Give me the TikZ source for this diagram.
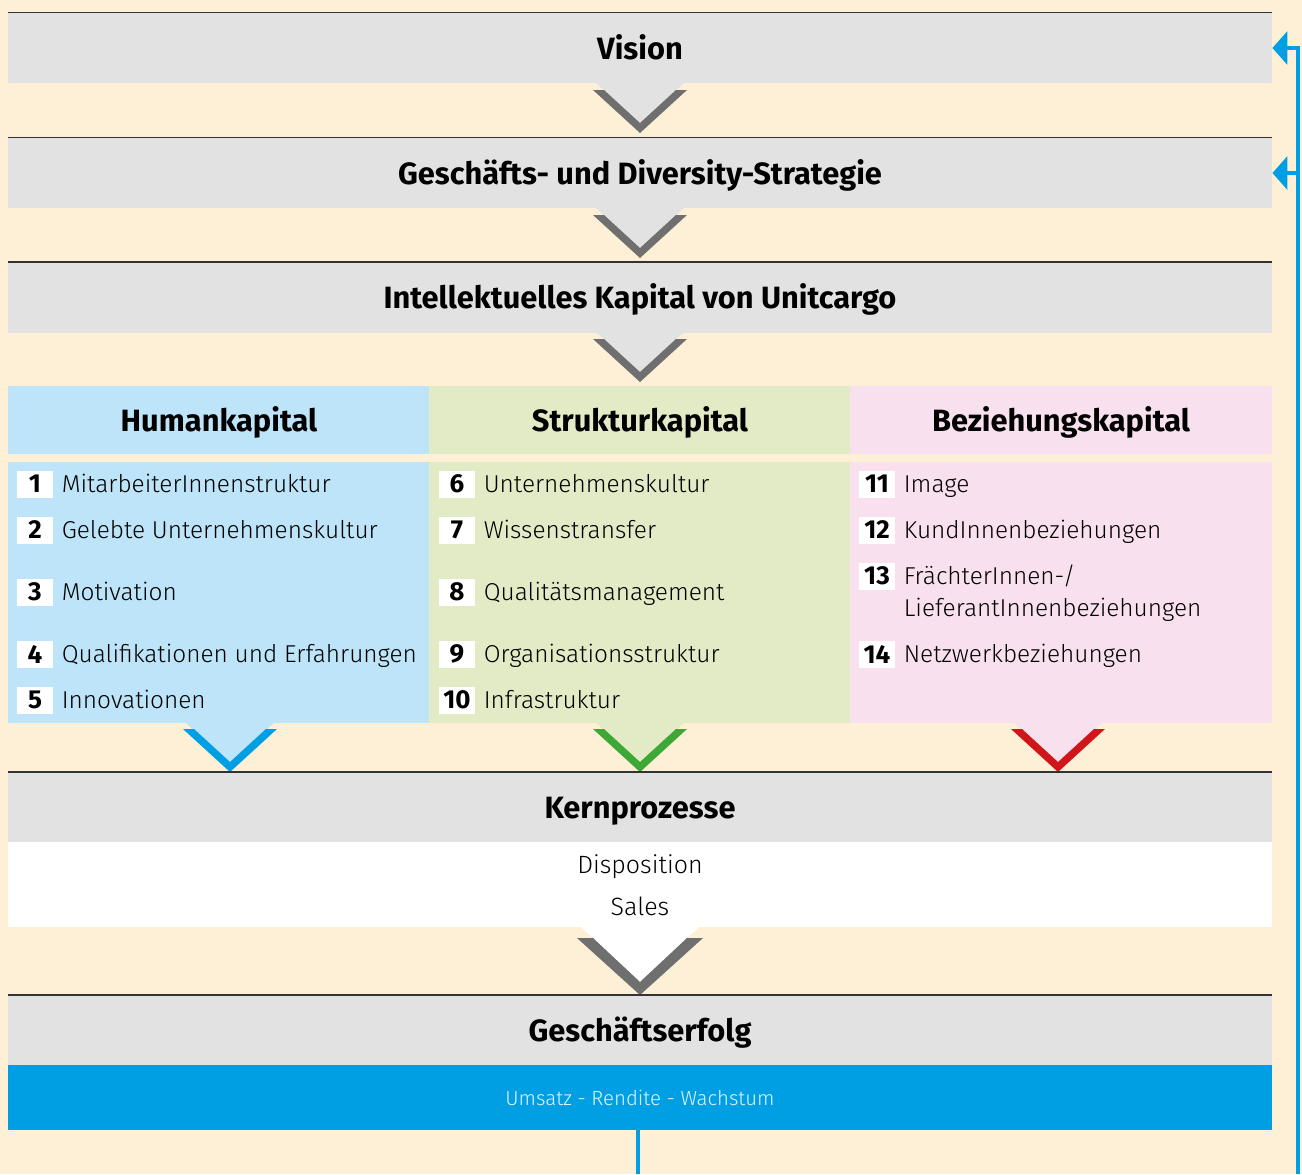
\documentclass[tikz,border=0pt]{standalone}
\usepackage{fontspec}
\setmainfont{Fira Sans Light}[BoldFont={Fira Sans Bold}]
\usetikzlibrary{positioning}
\usetikzlibrary{arrows.meta}

\definecolor{cream}{HTML}{FEF0D7}
\definecolor{boxgray}{HTML}{E2E2E2}
\definecolor{chevgray}{HTML}{6F6F6F}
\definecolor{ucblue}{HTML}{009FE3}
\definecolor{humanblue}{HTML}{BDE4F8}
\definecolor{strukgreen}{HTML}{E2EBC5}
\definecolor{bezpink}{HTML}{F9E0EE}
\definecolor{chevgreen}{HTML}{3DA836}
\definecolor{chevred}{HTML}{CF161B}
\definecolor{lineblack}{HTML}{333333}

\tikzset{
  bar/.style={fill=boxgray, minimum width=632pt, minimum height=35pt, inner sep=0pt,
    text height=14pt, text depth=3pt, font=\fontsize{15.4}{18}\selectfont\bfseries},
  colhead/.style={minimum width=211pt, minimum height=34pt, inner sep=0pt,
    text height=14pt, text depth=3pt, font=\fontsize{15.4}{18}\selectfont\bfseries},
  colbody/.style={minimum width=211pt, minimum height=130.5pt, inner sep=0pt},
  numbox/.style={fill=white, minimum width=18pt, minimum height=13.5pt, inner sep=0pt,
    font=\fontsize{13}{15}\selectfont\bfseries},
  item/.style={inner sep=0pt, anchor=west, text height=11pt, text depth=3pt,
    font=\fontsize{12.2}{14}\selectfont},
  plain/.style={inner sep=0pt, text height=11pt, text depth=3pt,
    font=\fontsize{12.5}{14}\selectfont},
  topline/.style={draw=lineblack, line width=0.7pt},
  fbline/.style={draw=ucblue, line width=2pt},
}

\begin{document}
\begin{tikzpicture}[x=0.5pt, y=-0.5pt]
  \fill[cream] (0,0) rectangle (1302,1174);
  \useasboundingbox (0,0) rectangle (1302,1174);

  \node[bar] (vision) at (640,48) {Vision};
  \node[bar] (strat) at (640,173) {Geschäfts- und Diversity-Strategie};
  \node[bar] (ik) at (640,297.5) {Intellektuelles Kapital von Unitcargo};
  \foreach \b in {vision,strat,ik}
    \draw[topline] (\b.north west) -- (\b.north east);

  \foreach \yb in {83,208,332} {
    \fill[boxgray] (596,\yb) -- (684,\yb) -- (640,\yb+40) -- cycle;
    \fill[chevgray] (593,\yb+7) -- (604,\yb+7) -- (640,\yb+40) -- (676,\yb+7)
      -- (687,\yb+7) -- (640,\yb+50) -- cycle;
  }

  \node[colhead, fill=humanblue] (human) at (219,420) {Humankapital};
  \node[colhead, fill=strukgreen] (struk) at (640,420) {Strukturkapital};
  \node[colhead, fill=bezpink] (bez) at (1061,420) {Beziehungskapital};
  \node[colbody, fill=humanblue] (humanbody) at (219,592.5) {};
  \node[colbody, fill=strukgreen] (strukbody) at (640,592.5) {};
  \node[colbody, fill=bezpink] (bezbody) at (1061,592.5) {};

  \foreach \n/\y/\t in {1/484/MitarbeiterInnenstruktur, 2/530/Gelebte Unternehmenskultur,
      3/592/Motivation, 4/654/Qualifikationen und Erfahrungen, 5/700/Innovationen} {
    \node[numbox] (n\n) at (35,\y) {\n};
    \node[item, right=4pt of n\n] (t\n) {\t};
  }
  \foreach \n/\y/\t in {6/484/Unternehmenskultur, 7/530/Wissenstransfer,
      8/592/Qualitätsmanagement, 9/654/Organisationsstruktur, 10/700/Infrastruktur} {
    \node[numbox] (n\n) at (457,\y) {\n};
    \node[item, right=4pt of n\n] (t\n) {\t};
  }
  \foreach \n/\y/\t in {11/484/Image, 12/530/KundInnenbeziehungen,
      13/576/{FrächterInnen-/}, 14/654/Netzwerkbeziehungen} {
    \node[numbox] (n\n) at (877,\y) {\n};
    \node[item, right=4pt of n\n] (t\n) {\t};
  }
  \node[item] (t13b) at ([yshift=-16pt]t13.west) {LieferantInnenbeziehungen};

  \foreach \cx/\tabcol/\chcol in {230/humanblue/ucblue, 640/strukgreen/chevgreen,
      1058/bezpink/chevred} {
    \fill[\tabcol] (\cx-44,723) -- (\cx+44,723) -- (\cx,763) -- cycle;
    \fill[\chcol] (\cx-47,729) -- (\cx-36,729) -- (\cx,762) -- (\cx+36,729)
      -- (\cx+47,729) -- (\cx,772) -- cycle;
  }

  \node[bar] (kern) at (640,807.5) {Kernprozesse};
  \node[fill=white, minimum width=632pt, minimum height=42.5pt, inner sep=0pt]
    (kernbody) at (640,884.5) {};
  \node[plain] (dispo) at (640,865) {Disposition};
  \node[plain] (sales) at (640,907) {Sales};

  \fill[white] (581,927) -- (699,927) -- (640,982) -- cycle;
  \fill[chevgray] (577,938) -- (593,938) -- (640,982) -- (687,938) -- (703,938)
    -- (640,995) -- cycle;

  \node[bar] (erfolg) at (640,1030.5) {Geschäftserfolg};
  \node[fill=ucblue, minimum width=632pt, minimum height=32.5pt, inner sep=0pt,
    text=white!88!ucblue, font=\fontsize{10.2}{12}\selectfont]
    (umsatz) at (640,1097.5) {Umsatz - Rendite - Wachstum};
  \foreach \b in {kern,erfolg}
    \draw[topline] (\b.north west) -- (\b.north east);

  \coordinate (fbl) at (637.5,1174);
  \coordinate (fbr) at (1298,1174);
  \draw[fbline] (umsatz.south -| fbl) -- (fbl);
  \draw[fbline, -{Triangle[length=7.5pt, width=16.5pt]}]
    (fbr) -- (fbr |- vision.east) -- (vision.east);
  \draw[fbline, -{Triangle[length=7.5pt, width=16.5pt]}]
    (fbr |- strat.east) -- (strat.east);
\end{tikzpicture}
\end{document}
